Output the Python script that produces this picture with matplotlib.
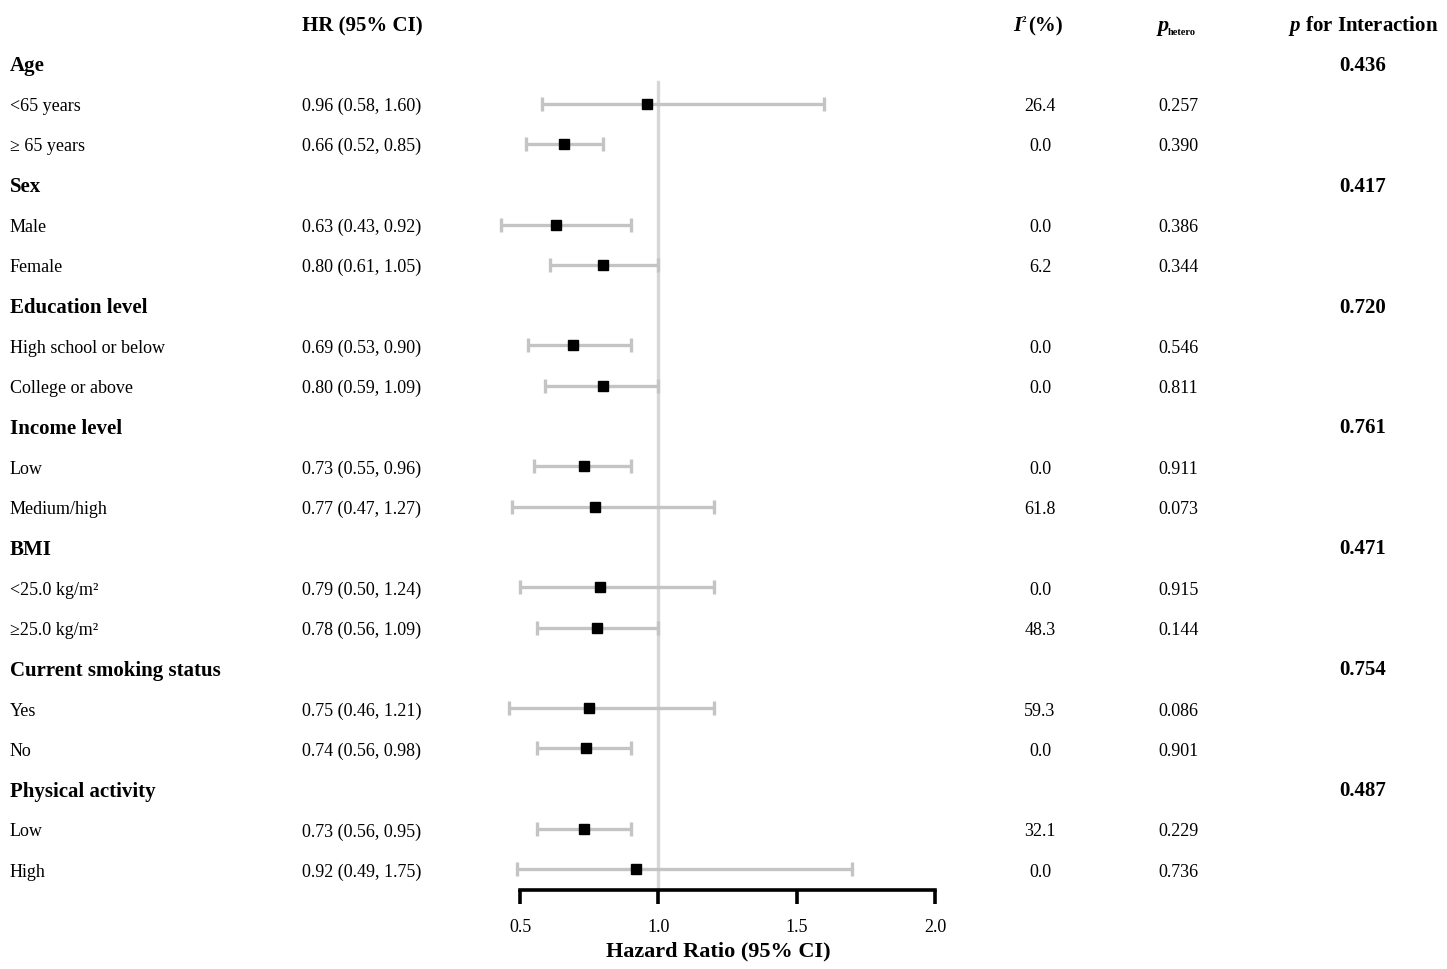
import matplotlib
matplotlib.use("Agg")
import matplotlib.pyplot as plt

plt.rcParams['font.family'] = ['Liberation Serif', 'DejaVu Serif']
plt.rcParams['mathtext.fontset'] = 'custom'
plt.rcParams['mathtext.it'] = 'Liberation Serif:italic:bold'
plt.rcParams['mathtext.rm'] = 'Liberation Serif:bold'
plt.rcParams['mathtext.bf'] = 'Liberation Serif:bold'

# ---------------- data ----------------
groups = ["Age", "Sex", "Education level", "Income level", "BMI",
          "Current smoking status", "Physical activity"]
p_interaction = ["0.436", "0.417", "0.720", "0.761", "0.471", "0.754", "0.487"]
subgroups = [["<65 years", "\u2265 65 years"],
             ["Male", "Female"],
             ["High school or below", "College or above"],
             ["Low", "Medium/high"],
             ["<25.0 kg/m\u00b2", "\u226525.0 kg/m\u00b2"],
             ["Yes", "No"],
             ["Low", "High"]]
hr = [0.96, 0.66, 0.63, 0.80, 0.69, 0.80, 0.73, 0.77, 0.79, 0.78, 0.75, 0.74, 0.73, 0.92]
ci_low = [0.58, 0.52, 0.43, 0.61, 0.53, 0.59, 0.55, 0.47, 0.50, 0.56, 0.46, 0.56, 0.56, 0.49]
ci_high = [1.60, 0.85, 0.92, 1.05, 0.90, 1.09, 0.96, 1.27, 1.24, 1.09, 1.21, 0.98, 0.95, 1.75]
# upper whisker ends as drawn in the figure
ci_high_drawn = [1.6, 0.8, 0.9, 1.0, 0.9, 1.0, 0.9, 1.2, 1.2, 1.0, 1.2, 0.9, 0.9, 1.7]
i2 = ["26.4", "0.0", "0.0", "6.2", "0.0", "0.0", "0.0", "61.8", "0.0", "48.3",
      "59.3", "0.0", "32.1", "0.0"]
p_hetero = ["0.257", "0.390", "0.386", "0.344", "0.546", "0.811", "0.911", "0.073",
            "0.915", "0.144", "0.086", "0.901", "0.229", "0.736"]
xticks = [0.5, 1.0, 1.5, 2.0]

# ---------------- layout ----------------
W, H = 1447, 970
fig = plt.figure(figsize=(W / 100, H / 100), dpi=100)
row_h = 40.3
y0 = 24.0
ax_left, ax_right = 520, 935
ax_bottom_px = 891
ax = fig.add_axes([ax_left / W, (H - ax_bottom_px) / H, (ax_right - ax_left) / W, ax_bottom_px / H])
ax.set_xlim(0.5, 2.0)
ax.set_ylim((ax_bottom_px - y0) / row_h, -y0 / row_h)
ax.patch.set_alpha(0)
for s in ["top", "left", "right"]:
    ax.spines[s].set_visible(False)
ax.spines["bottom"].set_linewidth(2.6)
ax.set_yticks([])
ax.set_xticks(xticks)
ax.set_xticklabels([f"{t:.1f}" for t in xticks], fontsize=13)
ax.tick_params(axis="x", length=10, width=2.6, pad=10)


def T(xpx, ypx, s, **kw):
    """text placed in figure pixel coordinates (y measured from top)"""
    return fig.text(xpx / W, 1 - ypx / H, s, **kw)


def row_px(r):
    return y0 + row_h * r


T(718, 956, "Hazard Ratio (95% CI)", fontsize=16, fontweight="bold",
  ha="center", va="baseline")

# reference line
ax.plot([1.0, 1.0], [1.47, (ax_bottom_px - y0) / row_h], color="#d6d6d6", lw=2.4, zorder=1,
        clip_on=False)

# headers
hb = 31
T(302, hb, "HR (95% CI)", ha="left", va="baseline", fontsize=15, fontweight="bold")
T(1013, hb, "I", ha="left", va="baseline", fontsize=15, fontweight="bold", style="italic")
T(1022, hb - 9, "2", ha="left", va="baseline", fontsize=6.5, fontweight="bold")
T(1028, hb, "(%)", ha="left", va="baseline", fontsize=15, fontweight="bold")
T(1158, hb, "p", ha="left", va="baseline", fontsize=16, fontweight="bold", style="italic")
T(1168, hb + 4, "hetero", ha="left", va="baseline", fontsize=7.5, fontweight="bold")
T(1363, hb, r"$p$ for Interaction", ha="center", va="baseline",
  fontsize=15, fontweight="bold")

k = 0
row = 1
for g, gname in enumerate(groups):
    yb = row_px(row)
    T(10, yb + 7, gname, ha="left", va="baseline", fontsize=15, fontweight="bold")
    T(1363, yb + 6.5, p_interaction[g], ha="center", va="baseline",
      fontsize=15, fontweight="bold")
    row += 1
    for sub in subgroups[g]:
        yb = row_px(row) + 6.5
        T(10, yb, sub, ha="left", va="baseline", fontsize=13)
        T(302, yb, f"{hr[k]:.2f} ({ci_low[k]:.2f}, {ci_high[k]:.2f})",
          ha="left", va="baseline", fontsize=13)
        T(1040, yb, i2[k], ha="center", va="baseline", fontsize=13)
        T(1158, yb, p_hetero[k], ha="left", va="baseline", fontsize=13)
        ax.errorbar([hr[k]], [row],
                    xerr=[[hr[k] - ci_low[k]], [ci_high_drawn[k] - hr[k]]],
                    fmt="none", ecolor="#c4c4c4", elinewidth=2.4, capsize=5,
                    capthick=2.4, zorder=2, clip_on=False)
        ax.plot([hr[k]], [row], marker="s", color="black", markersize=7.5,
                linestyle="none", zorder=3, clip_on=False)
        row += 1
        k += 1

fig.savefig("out.png", dpi=100)
